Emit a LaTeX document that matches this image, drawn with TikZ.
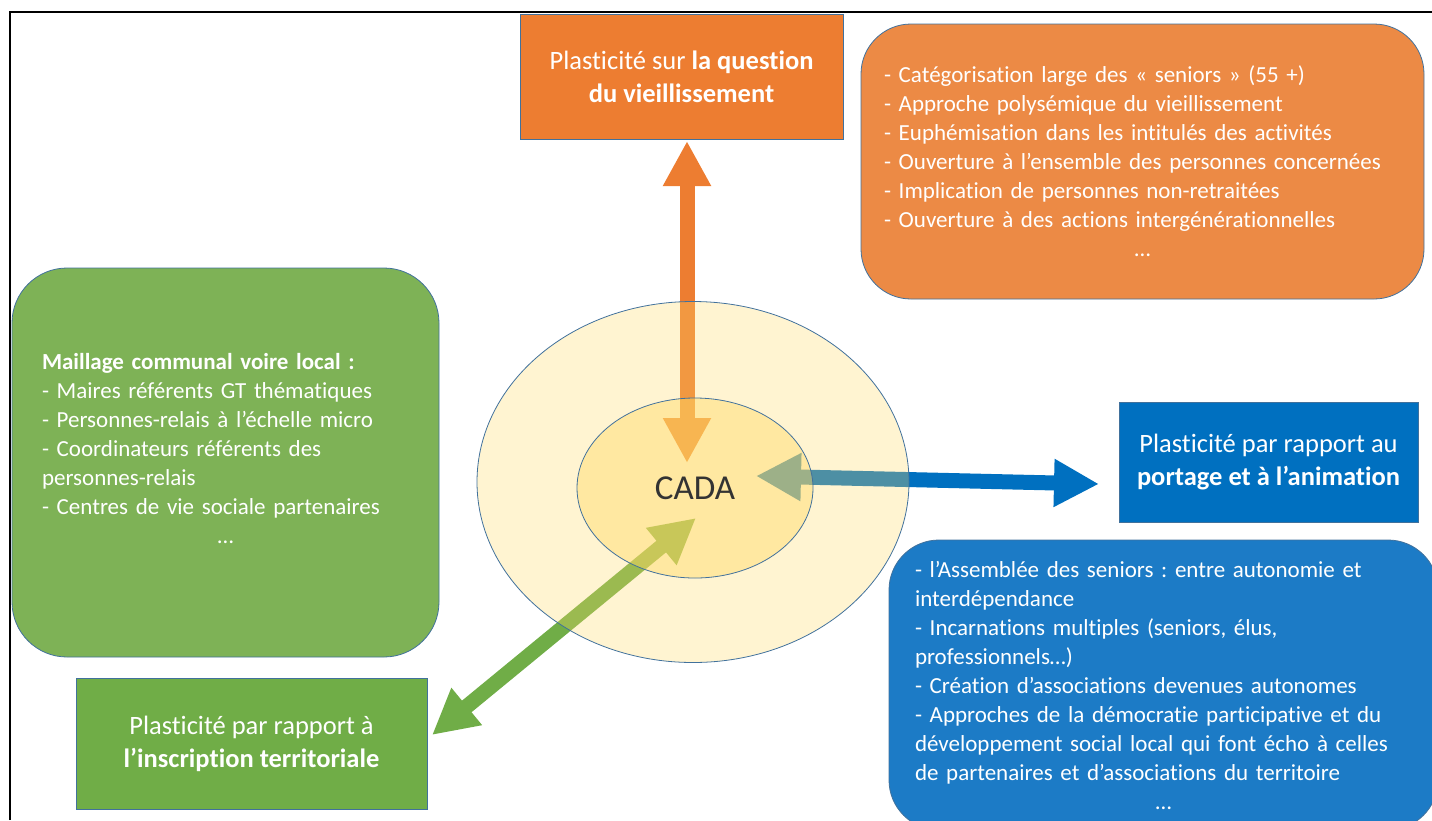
\documentclass[tikz,border=0pt]{standalone}
\usepackage{fontspec}
\setmainfont{Carlito}[Ligatures=NoCommon]
\frenchspacing
\usetikzlibrary{arrows.meta, positioning, shapes.geometric}
\definecolor{orange1}{RGB}{237,125,49}
\definecolor{orange2}{RGB}{236,138,69}
\definecolor{green1}{RGB}{112,173,71}
\definecolor{green2}{RGB}{126,178,86}
\definecolor{blue1}{RGB}{0,112,192}
\definecolor{blue2}{RGB}{28,123,198}
\definecolor{edge}{RGB}{65,113,156}
\definecolor{gold}{RGB}{255,217,102}

\tikzset{
  titlebox/.style={draw=edge, line width=0.8pt, text=white, align=center, inner sep=0pt,
    font=\fontsize{26.5}{33}\selectfont},
  listbox/.style={draw=edge, line width=0.8pt, rounded corners=50pt, text=white, align=left,
    font=\fontsize{23}{29}\selectfont},
  bigarrow/.style={line width=15pt,
    {Triangle[width=45pt,length=45pt]}-{Triangle[width=45pt,length=45pt]}},
  ring/.style={ellipse, draw=edge, line width=0.8pt, fill=gold, inner sep=0pt},
}

\begin{document}
\begin{tikzpicture}[x=1pt, y=-1pt]
        \useasboundingbox (0,0) rectangle (1432,820);
        %\draw [step=50, very thin, lightgray] (0,0) grid (1432,820);
        \draw [line width=1.5pt] (10,820) -- (10,12) -- (1432,12);

        % the three titles
        \node [titlebox, fill=orange1, minimum width=323pt, minimum height=125pt] (vieil) at (681.5,76.5)
          {Plasticité sur \textbf{la question}\\\textbf{du vieillissement}};
        \node [titlebox, fill=blue1, minimum width=299pt, minimum height=120pt] (portage) at (1268.5,462)
          {Plasticité par rapport au\\\textbf{portage et à l’animation}};
        \node [titlebox, fill=green1, minimum width=351pt, minimum height=131pt] (inscr) at (251.5,743.5)
          {Plasticité par rapport à\\\textbf{l’inscription territoriale}};

        % the three lists
        \node [listbox, fill=orange2, inner xsep=23pt, text width=517pt, minimum height=275pt] (vlist) at (1142.5,161.5)
          {- Catégorisation large des «~seniors~» (55~+)\\
           - Approche polysémique du vieillissement\\
           - Euphémisation dans les intitulés des activités\\
           - Ouverture à l’ensemble des personnes concernées\\
           - Implication de personnes non-retraitées\\
           - Ouverture à des actions intergénérationnelles\\
           \hfill…\hfill\mbox{}};
        \node [listbox, fill=green2, rounded corners=55pt, inner xsep=30pt, text width=367pt, minimum height=389pt] (mlist) at (225.5,462.5)
          {\textbf{Maillage communal voire local :}\\
           - Maires référents GT thématiques\\
           - Personnes-relais à l’échelle micro\\
           - Coordinateurs référents des\\
           personnes-relais\\
           - Centres de vie sociale partenaires\\
           \hfill…\hfill\mbox{}\\
           \mbox{}};
        \node [listbox, fill=blue2, inner xsep=26pt, text width=497pt, minimum height=290pt] (plist) at (1163.5,685)
          {- l’Assemblée des seniors : entre autonomie et\\
           interdépendance\\
           - Incarnations multiples (seniors, élus,\\
           professionnels…)\\
           - Création d’associations devenues autonomes\\
           - Approches de la démocratie participative et du\\
           développement social local qui font écho à celles\\
           de partenaires et d’associations du territoire\\
           \hfill…\hfill\mbox{}};

        % arrows to the centre
        \coordinate (vtip) at (687,463);
        \coordinate (vend) at (687,141);
        \coordinate (ptip) at (756,476);
        \coordinate (pend) at (1099,484);
        \coordinate (itip) at (696,518);
        \coordinate (iend) at (432,735);
        \draw [bigarrow, orange1] (vend) -- (vtip);
        \draw [bigarrow, blue1] (pend) -- (ptip);
        \draw [bigarrow, green1] (iend) -- (itip);

        % CADA
        \node [ring, fill opacity=0.3, minimum width=432pt, minimum height=361pt] (outer) at (693,482) {};
        \node [ring, fill opacity=0.45, minimum width=236pt, minimum height=180pt] (inner) at (695,488) {};
        \node [font=\fontsize{35}{40}\selectfont, text=black!80] (cada) at (inner) {CADA};
\end{tikzpicture}
\end{document}
